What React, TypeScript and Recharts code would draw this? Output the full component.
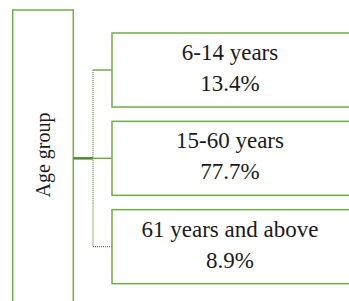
import React from "react";
import { ComposedChart, Bar, XAxis, YAxis, Customized } from "recharts";

const ROOT_LABEL = "Age group";
const CATEGORIES = ["6-14 years", "15-60 years", "61 years and above"];
const SHARES = [13.4, 77.7, 8.9];

const data = CATEGORIES.map((name, i) => ({ name, value: SHARES[i] }));

const GREEN = "#70AD47";
const DARK_GREEN = "#4E8A2E";
const FONT = "Liberation Serif, DejaVu Serif, serif";

const CHART_W = 349;
const CHART_H = 301;
const MARGIN = { top: 26, right: 0, bottom: 10, left: 0 };
const HALF_STEP = (CHART_H - MARGIN.top - MARGIN.bottom) / CATEGORIES.length / 2;

const ROOT_X = 12.7;
const ROOT_RIGHT = 73.3;
const CONN_X = 93;
const BOX_X = 112;
const BOX_RIGHT = 360;

const NodeShape = (props: any) => {
  const { y, height, index, payload } = props;
  const cy = y + height / 2;
  const n = CATEGORIES.length;
  const first = index === 0;
  const last = index === n - 1;
  const middle = index === Math.floor(n / 2);
  const vTop = first ? cy : cy - HALF_STEP;
  const vBottom = last ? cy : cy + HALF_STEP;
  return (
    <g>
      <line x1={CONN_X} x2={CONN_X} y1={vTop} y2={vBottom} stroke={DARK_GREEN} strokeWidth={1.2} strokeDasharray="1 1" />
      <line
        x1={CONN_X}
        x2={BOX_X}
        y1={cy}
        y2={cy}
        stroke={last ? DARK_GREEN : GREEN}
        strokeWidth={last ? 1.2 : 1.5}
        strokeDasharray={last ? "1 1" : undefined}
      />
      {middle && (
        <line x1={ROOT_RIGHT} x2={CONN_X} y1={cy} y2={cy} stroke={DARK_GREEN} strokeWidth={2.5} />
      )}
      <rect x={BOX_X} y={y} width={BOX_RIGHT - BOX_X} height={height} fill="#fff" stroke={GREEN} strokeWidth={1.5} />
      <text x={230} y={cy - 10} textAnchor="middle" fontFamily={FONT} fontSize={23} fill="#1a1a1a">
        {payload.name}
      </text>
      <text x={230} y={cy + 21} textAnchor="middle" fontFamily={FONT} fontSize={23} fill="#1a1a1a">
        {`${payload.value}%`}
      </text>
    </g>
  );
};

const RootNode = () => (
  <g>
    <rect x={ROOT_X} y={10} width={ROOT_RIGHT - ROOT_X} height={320} fill="#fff" stroke={GREEN} strokeWidth={1.5} />
    <text
      x={43}
      y={155}
      transform="rotate(-90 43 155)"
      textAnchor="middle"
      dominantBaseline="central"
      fontFamily={FONT}
      fontSize={20}
      fill="#1a1a1a"
    >
      {ROOT_LABEL}
    </text>
  </g>
);

export default function App() {
  return (
    <div style={{ position: "absolute", left: 0, top: 0, width: CHART_W, height: CHART_H, background: "#fff" }}>
      <ComposedChart width={CHART_W} height={CHART_H} data={data} layout="vertical" margin={MARGIN}>
        <XAxis type="number" domain={[0, 100]} hide />
        <YAxis type="category" dataKey="name" hide />
        <Customized component={<RootNode />} />
        <Bar dataKey="value" barSize={74} shape={<NodeShape />} isAnimationActive={false} />
      </ComposedChart>
    </div>
  );
}
